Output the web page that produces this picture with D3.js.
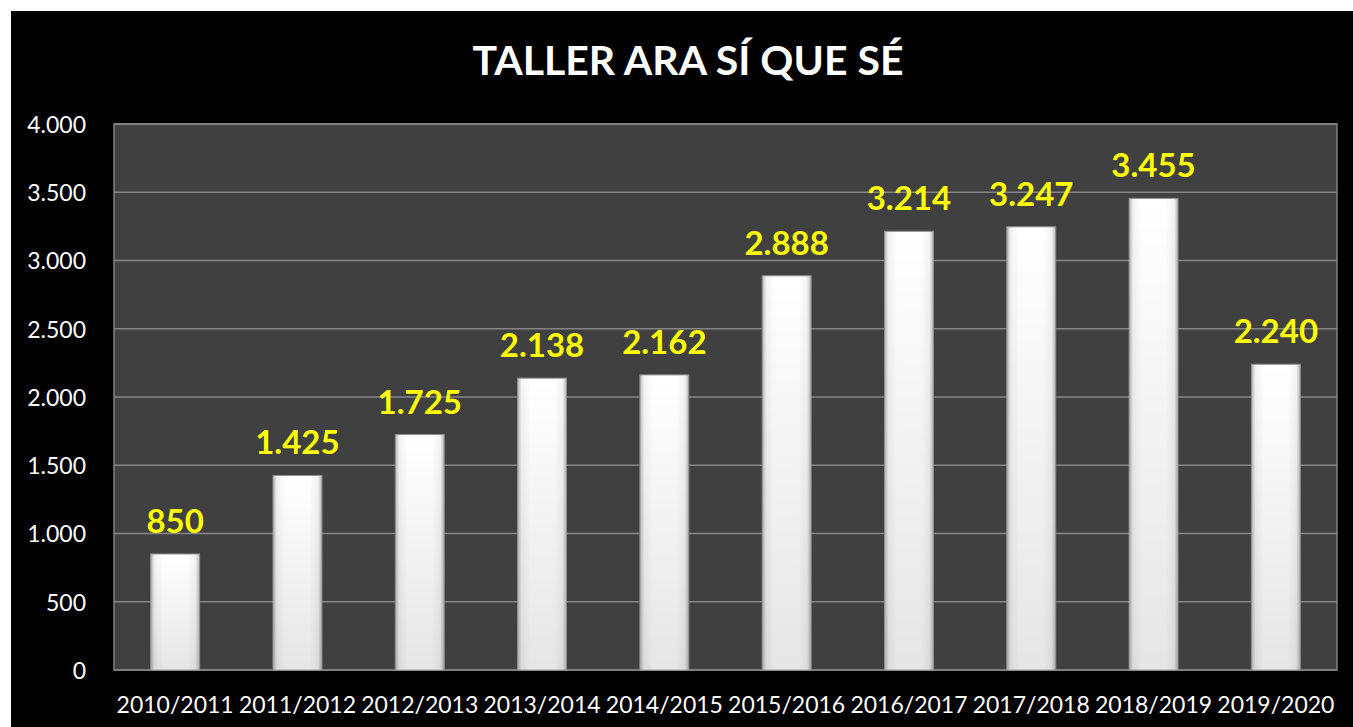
<!DOCTYPE html>
<html>
<head>
<meta charset="utf-8">
<script src="https://cdn.jsdelivr.net/npm/d3@7"></script>
<style>
  body { margin: 0; background: #fff; }
  text { font-family: Lato, "Open Sans", sans-serif; }
</style>
</head>
<body>
<div id="Canvas"></div>
<script>
// datos
let Cursos = ["2010/2011","2011/2012","2012/2013","2013/2014","2014/2015","2015/2016","2016/2017","2017/2018","2018/2019","2019/2020"]
let Valores = [850, 1425, 1725, 2138, 2162, 2888, 3214, 3247, 3455, 2240]
let Ticks = [0, 500, 1000, 1500, 2000, 2500, 3000, 3500, 4000]
let Titulo = "TALLER ARA SÍ QUE SÉ"

let W = 1353, H = 727
let svg = d3.select("#Canvas")
    .append("svg")
    .attr("width", W)
    .attr("height", H)

// fondo negro
svg.append("rect")
    .attr("x", 11).attr("y", 11)
    .attr("width", W - 11).attr("height", H - 11)
    .attr("fill", "#000")

let plotL = 114, plotR = 1337, plotT = 124, plotB = 670

let xScale = d3.scaleBand()
    .domain(Cursos)
    .range([plotL, plotR])
    .paddingInner(0.6)
    .paddingOuter(0.3)
let yScale = d3.scaleLinear()
    .domain([0, 4000])
    .range([plotB, plotT])

// degradados para las barras
let defs = svg.append("defs")
let gh = defs.append("linearGradient").attr("id", "gh").attr("x1", 0).attr("x2", 1).attr("y1", 0).attr("y2", 0)
gh.append("stop").attr("offset", "0%").attr("stop-color", "#b4b4b4")
gh.append("stop").attr("offset", "8%").attr("stop-color", "#f2f2f2")
gh.append("stop").attr("offset", "25%").attr("stop-color", "#ffffff")
gh.append("stop").attr("offset", "75%").attr("stop-color", "#ffffff")
gh.append("stop").attr("offset", "92%").attr("stop-color", "#f2f2f2")
gh.append("stop").attr("offset", "100%").attr("stop-color", "#b4b4b4")
let gv = defs.append("linearGradient").attr("id", "gv").attr("x1", 0).attr("x2", 0).attr("y1", 0).attr("y2", 1)
gv.append("stop").attr("offset", "0%").attr("stop-color", "#000").attr("stop-opacity", 0)
gv.append("stop").attr("offset", "100%").attr("stop-color", "#000").attr("stop-opacity", 0.1)

// area del grafico
svg.append("rect")
    .attr("x", plotL).attr("y", plotT)
    .attr("width", plotR - plotL).attr("height", plotB - plotT)
    .attr("fill", "#404040")
    .attr("stroke", "#808080")
    .attr("stroke-width", 1.5)

// lineas de cuadricula
svg.append("g")
    .selectAll("line")
    .data(Ticks)
    .enter()
    .append("line")
    .attr("x1", plotL).attr("x2", plotR)
    .attr("y1", d => yScale(d)).attr("y2", d => yScale(d))
    .attr("stroke", "#868686")
    .attr("stroke-width", 1.5)

// eje y
let yAxis = svg.append("g")
    .attr("transform", `translate(${plotL - 25},0)`)
    .call(d3.axisLeft(yScale).tickValues(Ticks).tickSize(0).tickFormat(d => d3.format(",")(d).replace(/,/g, ".")))
yAxis.select(".domain").remove()
yAxis.selectAll("text")
    .attr("fill", "#fff")
    .style("font-size", "23px")
    .attr("dy", "0.36em")

// eje x
let xAxis = svg.append("g")
    .attr("transform", `translate(0,${plotB})`)
    .call(d3.axisBottom(xScale).tickSize(0))
xAxis.select(".domain").remove()
xAxis.selectAll("text")
    .attr("fill", "#fff")
    .style("font-size", "23px")
    .attr("y", 43)
    .attr("dy", 0)

// barras
let barras = svg.append("g")
    .selectAll("g")
    .data(Valores)
    .enter()
    .append("g")
barras.append("rect")
    .attr("x", (d, i) => xScale(Cursos[i]))
    .attr("y", d => yScale(d))
    .attr("width", xScale.bandwidth())
    .attr("height", d => plotB - yScale(d))
    .attr("fill", "url(#gh)")
    .attr("stroke", "#909090")
    .attr("stroke-width", 1)
barras.append("rect")
    .attr("x", (d, i) => xScale(Cursos[i]) + 1)
    .attr("y", d => yScale(d) + 1)
    .attr("width", xScale.bandwidth() - 2)
    .attr("height", d => plotB - yScale(d) - 2)
    .attr("fill", "url(#gv)")

// etiquetas
svg.append("g")
    .selectAll("text")
    .data(Valores)
    .enter()
    .append("text")
    .attr("x", (d, i) => xScale(Cursos[i]) + xScale.bandwidth() / 2)
    .attr("y", d => yScale(d) - 21)
    .attr("text-anchor", "middle")
    .attr("fill", "#ffff00")
    .style("font-size", "33px")
    .style("font-weight", "bold")
    .text(d => d3.format(",")(d).replace(/,/g, "."))

// titulo
svg.append("text")
    .attr("x", 688)
    .attr("y", 75)
    .attr("text-anchor", "middle")
    .attr("fill", "#fff")
    .style("font-size", "41px")
    .style("font-weight", "bold")
    .text(Titulo)
</script>
</body>
</html>
